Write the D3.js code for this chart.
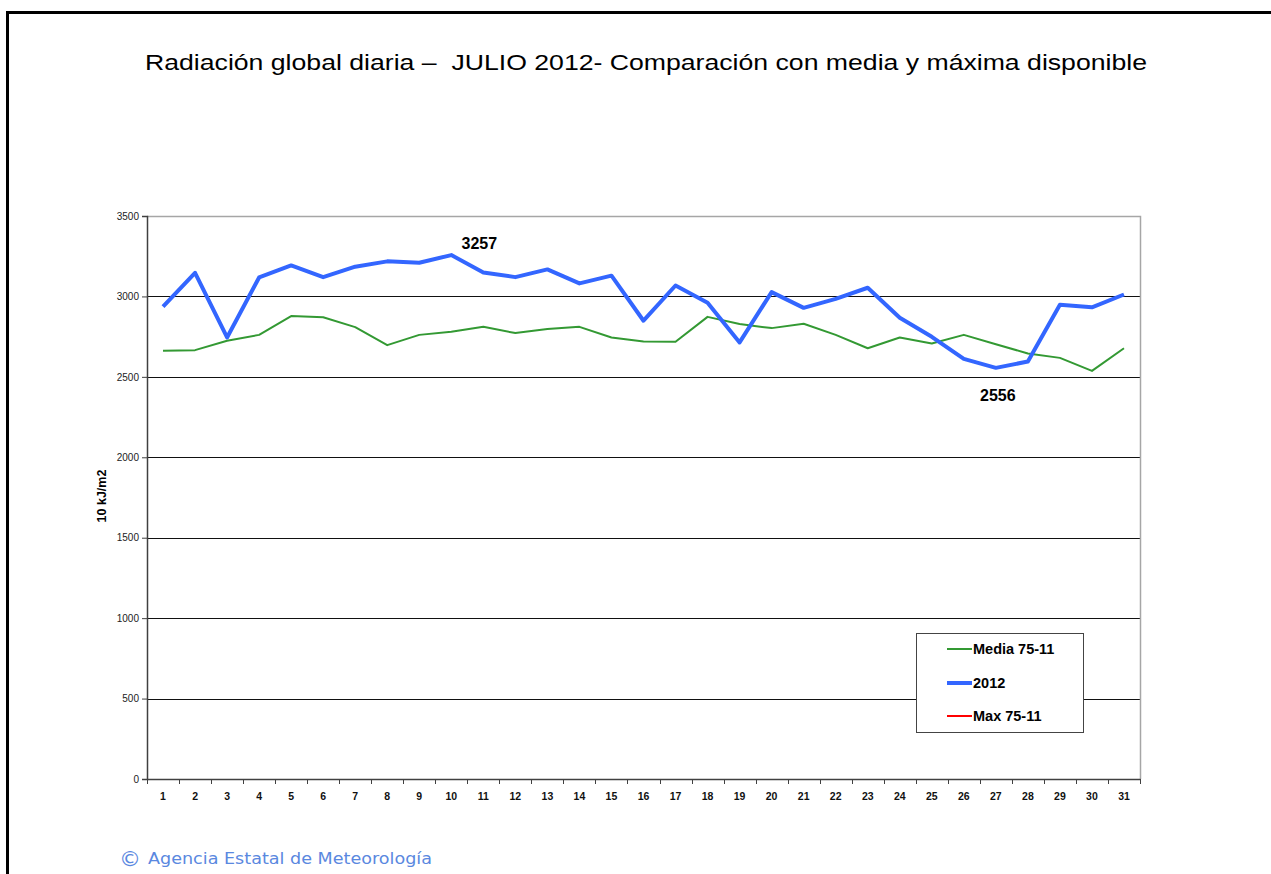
<!DOCTYPE html>
<html>
<head>
<meta charset="utf-8">
<script src="https://cdn.jsdelivr.net/npm/d3@7"></script>
<style>
  html, body { margin: 0; padding: 0; background: #fff; }
  svg { display: block; }
</style>
</head>
<body>
<svg id="chart" width="1271" height="874"></svg>
<script>
const days = d3.range(1, 32).map(String);
const media7511 = [2662, 2666, 2724, 2761, 2878, 2871, 2809, 2697, 2761, 2780,
                   2811, 2772, 2797, 2811, 2745, 2720, 2718, 2873, 2828, 2803,
                   2830, 2761, 2678, 2745, 2707, 2761, 2703, 2645, 2618, 2537, 2678];
const year2012 = [2936, 3147, 2745, 3118, 3193, 3120, 3185, 3218, 3209, 3257,
                  3149, 3120, 3168, 3081, 3129, 2849, 3068, 2961, 2714, 3027,
                  2929, 2985, 3054, 2867, 2749, 2612, 2556, 2595, 2948, 2932, 3012];
const max7511 = [];
const yTicks = [0, 500, 1000, 1500, 2000, 2500, 3000, 3500];
const seriesNames = ["Media 75-11", "2012", "Max 75-11"];
const seriesColors = ["#339933", "#3366ff", "#ff0000"];
const annotations = [{day: "10", value: 3257}, {day: "27", value: 2556}];
const titleText = "Radiación global diaria –  JULIO 2012- Comparación con media y máxima disponible";

(function () {
const svg = d3.select("#chart");
const pL = 147, pR = 1140, pT = 216, pB = 779;
const FONT = "Liberation Sans, Arial, sans-serif";

// outer frame (top & left)
svg.append("path").attr("d", `M7.5,874 L7.5,12.5 L1271,12.5`)
  .attr("fill", "none").attr("stroke", "#000").attr("stroke-width", 3);

svg.append("text").attr("x", 145).attr("y", 70)
  .attr("font-family", FONT)
  .attr("font-size", 22.5).attr("fill", "#000")
  .attr("textLength", 1002).attr("lengthAdjust", "spacingAndGlyphs")
  .style("white-space", "pre")
  .text(titleText);

const x = d3.scaleBand().domain(days).range([pL, pR]).padding(0);
const y = d3.scaleLinear().domain([0, 3500]).range([pB, pT]);

// gridlines
svg.append("g").selectAll("line").data(yTicks.filter(t => t > 0 && t < 3500)).join("line")
  .attr("x1", pL).attr("x2", pR)
  .attr("y1", d => Math.round(y(d)) + 0.5).attr("y2", d => Math.round(y(d)) + 0.5)
  .attr("stroke", "#111").attr("stroke-width", 1);

// plot border top/right
svg.append("path").attr("d", `M${pL},${pT + 0.5} L${pR + 0.5},${pT + 0.5} L${pR + 0.5},${pB}`)
  .attr("fill", "none").attr("stroke", "#a6a6a6").attr("stroke-width", 1.5);

// y axis
const yAxis = d3.axisLeft(y).tickValues(yTicks).tickFormat(d3.format("d")).tickSize(5).tickPadding(3);
const gy = svg.append("g").attr("transform", `translate(${pL},0)`).call(yAxis);
gy.select(".domain").attr("stroke", "#404040").attr("stroke-width", 1.5);
gy.selectAll(".tick line").attr("stroke", "#404040");
gy.selectAll("text").attr("font-family", FONT)
  .attr("font-size", 10).attr("fill", "#222");

// x axis
const xAxis = d3.axisBottom(x).tickSize(0).tickPadding(14);
const gx = svg.append("g").attr("transform", `translate(0,${pB})`).call(xAxis);
gx.select(".domain").attr("stroke", "#404040").attr("stroke-width", 1.5);
gx.selectAll("text").attr("font-family", FONT)
  .attr("font-size", 10.5).attr("font-weight", "bold").attr("fill", "#111");
// boundary ticks
const bounds = days.map(d => x(d)).concat([x(days[days.length - 1]) + x.bandwidth()]);
svg.append("g").selectAll("line").data(bounds).join("line")
  .attr("x1", d => Math.round(d) + 0.5).attr("x2", d => Math.round(d) + 0.5)
  .attr("y1", pB).attr("y2", pB + 5)
  .attr("stroke", "#404040").attr("stroke-width", 1);

const cx = d => x(d) + x.bandwidth() / 2;
const line = d3.line().x((v, i) => cx(days[i])).y(v => y(v));

svg.append("path").datum(media7511).attr("d", line)
  .attr("fill", "none").attr("stroke", seriesColors[0]).attr("stroke-width", 2)
  .attr("stroke-linejoin", "round");
svg.append("path").datum(year2012).attr("d", line)
  .attr("fill", "none").attr("stroke", seriesColors[1]).attr("stroke-width", 4)
  .attr("stroke-linejoin", "round");
if (max7511.length) {
  svg.append("path").datum(max7511).attr("d", line)
    .attr("fill", "none").attr("stroke", seriesColors[2]).attr("stroke-width", 2);
}

// annotations
svg.append("text").attr("x", cx(annotations[0].day) + 28).attr("y", y(annotations[0].value) - 6)
  .attr("text-anchor", "middle").attr("font-family", FONT)
  .attr("font-size", 16).attr("font-weight", "bold").text(annotations[0].value);
svg.append("text").attr("x", cx(annotations[1].day) + 2).attr("y", y(annotations[1].value) + 33)
  .attr("text-anchor", "middle").attr("font-family", FONT)
  .attr("font-size", 16).attr("font-weight", "bold").text(annotations[1].value);

// y title
svg.append("text").attr("transform", "translate(106,496) rotate(-90)")
  .attr("text-anchor", "middle").attr("font-family", FONT)
  .attr("font-size", 12.5).attr("font-weight", "bold").text("10 kJ/m2");

// legend
const lg = svg.append("g").attr("transform", "translate(916,633)");
lg.append("rect").attr("x", 0.5).attr("y", 0.5).attr("width", 167).attr("height", 99)
  .attr("fill", "#fff").attr("stroke", "#444").attr("stroke-width", 1);
const ly = [16, 50, 83];
const lw = [2, 4, 2];
seriesNames.forEach((n, i) => {
  lg.append("line").attr("x1", 31).attr("x2", 56).attr("y1", ly[i]).attr("y2", ly[i])
    .attr("stroke", seriesColors[i]).attr("stroke-width", lw[i]);
  lg.append("text").attr("x", 57).attr("y", ly[i] + 5)
    .attr("font-family", FONT)
    .attr("font-size", 14.5).attr("font-weight", "bold").text(n);
});

// footer
svg.append("text").attr("x", 119).attr("y", 866)
  .attr("font-family", "DejaVu Sans, Verdana, sans-serif")
  .attr("font-size", 22).attr("fill", "#5a88e0")
  .text("©");
svg.append("text").attr("x", 148).attr("y", 864)
  .attr("font-family", "DejaVu Sans, Verdana, sans-serif")
  .attr("font-size", 15).attr("fill", "#5a88e0")
  .attr("textLength", 284).attr("lengthAdjust", "spacingAndGlyphs")
  .text("Agencia Estatal de Meteorología");
})();
</script>
</body>
</html>
